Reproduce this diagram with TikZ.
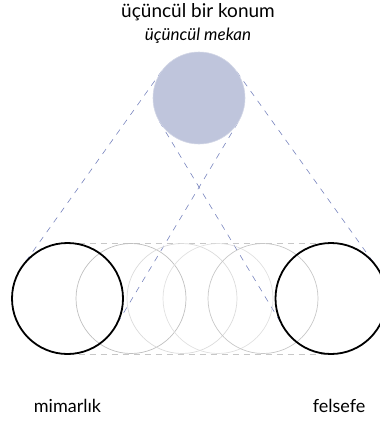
\documentclass[tikz,border=0pt]{standalone}
\usepackage{fontspec}
\setmainfont{Lato}
\usetikzlibrary{backgrounds}

\tikzset{
  blackcircle/.style={circle, draw=black, line width=1.8pt, minimum size=111pt, inner sep=0pt, outer sep=0pt},
  graycircle/.style={circle, draw=#1, line width=0.7pt, minimum size=110pt, inner sep=0pt, outer sep=0pt},
  bluecircle/.style={circle, fill=bluefill, draw=bluefill!70!white, line width=0.6pt, minimum size=92pt, inner sep=0pt, outer sep=0pt},
  tangentline/.style={draw=blueline, line width=0.6pt, dash pattern=on 6pt off 6pt},
  boxline/.style={draw=black!22, line width=0.7pt, dash pattern=on 6pt off 5pt},
  label/.style={font=\fontsize{18}{21}\selectfont}
}
\definecolor{bluefill}{RGB}{191,197,220}
\definecolor{blueline}{RGB}{120,132,190}

\begin{document}
\begin{tikzpicture}[x=1pt,y=1pt]

      \useasboundingbox (0,0) rectangle (380,-423);
      \clip (0,0) rectangle (380,-423);

      % Titles
      \node[font=\fontsize{19}{22}\selectfont] (title) at (198,-12) {üçüncül bir konum};
      \node[font=\itshape\fontsize{17}{20}\selectfont] (subtitle) at (198,-36) {üçüncül mekan};

      % Third place
      \node[bluecircle] (third) at (199,-98) {};

      % Intermediate circles
      \node[graycircle=black!25] (g1) at (131,-298.5) {};
      \node[graycircle=black!14] (g2) at (182,-298.5) {};
      \node[graycircle=black!12] (g3) at (218,-298.5) {};
      \node[graycircle=black!22] (g4) at (263,-298.5) {};

      % Architecture and philosophy
      \node[blackcircle] (arch) at (67.5,-298.5) {};
      \node[blackcircle] (phil) at (331,-298.5) {};

      \node[label] (archlabel) at (67.5,-406) {mimarlık};
      \node[label] (phillabel) at (339,-406) {felsefe};

      \begin{scope}[on background layer]
        % top and bottom of the band
        \draw[boxline] (arch.north) -- (phil.north);
        \draw[boxline] (arch.south) -- (phil.south);

        % tangents
        \draw[tangentline] (third.144.4) -- (arch.144.4);
        \draw[tangentline] (third.328.7) -- (arch.328.7);
        \draw[tangentline] (third.35.6) -- (phil.35.6);
        \draw[tangentline] (third.211.3) -- (phil.211.3);
      \end{scope}

\end{tikzpicture}
\end{document}
